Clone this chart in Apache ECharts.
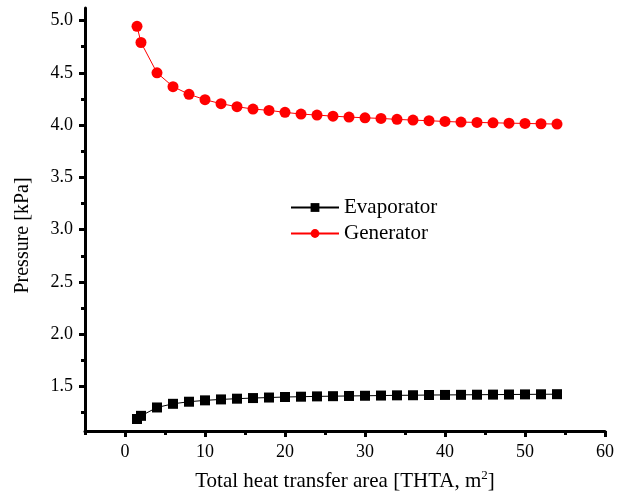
<!DOCTYPE html>
<html>
<head>
<meta charset="utf-8">
<script src="https://cdn.jsdelivr.net/npm/echarts@6/dist/echarts.min.js"></script>
<style>
html,body{margin:0;padding:0;background:#fff;}
#c{width:630px;height:494px;}
</style>
</head>
<body>
<div id="c"></div>
<script>
// Data
var areaValues = [1.5, 2, 4, 6, 8, 10, 12, 14, 16, 18, 20, 22, 24, 26, 28, 30, 32, 34, 36, 38, 40, 42, 44, 46, 48, 50, 52, 54];
var evaporatorValues = [1.19, 1.22, 1.30, 1.335, 1.355, 1.368, 1.377, 1.384, 1.39, 1.395, 1.40, 1.403, 1.406, 1.408, 1.41, 1.412, 1.414, 1.416, 1.417, 1.419, 1.42, 1.421, 1.422, 1.423, 1.424, 1.425, 1.426, 1.427];
var generatorValues = [4.945, 4.79, 4.50, 4.368, 4.295, 4.243, 4.205, 4.176, 4.154, 4.141, 4.122, 4.106, 4.096, 4.086, 4.077, 4.07, 4.064, 4.055, 4.048, 4.042, 4.035, 4.029, 4.026, 4.022, 4.019, 4.016, 4.013, 4.01];
var seriesNames = ['Evaporator', 'Generator'];
var xTickLabels = [0, 10, 20, 30, 40, 50, 60];
var xMinorTicks = [-5, 5, 15, 25, 35, 45, 55];
var yTickLabels = [1.5, 2.0, 2.5, 3.0, 3.5, 4.0, 4.5, 5.0];
var yMinorTicks = [1.25, 1.75, 2.25, 2.75, 3.25, 3.75, 4.25, 4.75];

function pairs(xs, ys) { return xs.map(function (x, i) { return [x, ys[i]]; }); }

var FONT = '"Liberation Serif", "Times New Roman", serif';
var X_MIN = -5, X_MAX = 60, Y_MIN = 1.075, Y_MAX = 5.12;

var chart = echarts.init(document.getElementById('c'), null, {renderer: 'canvas'});
chart.setOption({
  backgroundColor: '#ffffff',
  animation: false,
  grid: {left: 85, right: 25, top: 8, bottom: 63, containLabel: false, outerBoundsMode: 'none'},
  legend: {
    orient: 'vertical',
    left: 285,
    top: 192,
    itemWidth: 48,
    itemHeight: 11,
    itemGap: 5,
    textStyle: {fontFamily: FONT, fontSize: 21, color: '#000'},
    data: seriesNames
  },
  xAxis: [{
    type: 'value', min: X_MIN, max: X_MAX, position: 'bottom',
    name: 'Total heat transfer area [THTA, m{sup|2}]',
    nameLocation: 'middle', nameGap: 38,
    nameTextStyle: {fontFamily: FONT, fontSize: 21, color: '#000',
      rich: {sup: {fontFamily: FONT, fontSize: 13, color: '#000', padding: [0, 0, 12, 0]}}},
    axisLine: {show: true, onZero: false, lineStyle: {color: '#000', width: 3}},
    axisTick: {show: true, inside: false, length: 6, lineStyle: {color: '#000', width: 3}, customValues: xTickLabels},
    axisLabel: {fontFamily: FONT, fontSize: 18, color: '#000', margin: 12, customValues: xTickLabels},
    splitLine: {show: false}
  }, {
    type: 'value', min: X_MIN, max: X_MAX, position: 'bottom',
    axisLine: {show: false, onZero: false},
    axisTick: {show: true, inside: false, length: 4, lineStyle: {color: '#000', width: 3}, customValues: xMinorTicks},
    axisLabel: {show: false},
    splitLine: {show: false}
  }],
  yAxis: [{
    type: 'value', min: Y_MIN, max: Y_MAX, position: 'left',
    name: 'Pressure [kPa]',
    nameLocation: 'middle', nameGap: 52, nameRotate: 90,
    nameTextStyle: {fontFamily: FONT, fontSize: 20, color: '#000', padding: [0, 32, 0, 0]},
    axisLine: {show: true, onZero: false, lineStyle: {color: '#000', width: 3}},
    axisTick: {show: true, inside: false, length: 6, lineStyle: {color: '#000', width: 3}, customValues: yTickLabels},
    axisLabel: {fontFamily: FONT, fontSize: 18, color: '#000', margin: 12, customValues: yTickLabels,
      formatter: function (v) { return Number(v).toFixed(1); }},
    splitLine: {show: false}
  }, {
    type: 'value', min: Y_MIN, max: Y_MAX, position: 'left',
    axisLine: {show: false, onZero: false},
    axisTick: {show: true, inside: false, length: 4, lineStyle: {color: '#000', width: 3}, customValues: yMinorTicks},
    axisLabel: {show: false},
    splitLine: {show: false}
  }],
  series: [{
    name: seriesNames[0], type: 'line', xAxisIndex: 0, yAxisIndex: 0,
    data: pairs(areaValues, evaporatorValues),
    symbol: 'rect', symbolSize: 10,
    lineStyle: {color: '#000', width: 1},
    itemStyle: {color: '#000'}
  }, {
    name: seriesNames[1], type: 'line', xAxisIndex: 0, yAxisIndex: 0,
    data: pairs(areaValues, generatorValues),
    symbol: 'circle', symbolSize: 11,
    lineStyle: {color: '#ff0000', width: 1},
    itemStyle: {color: '#ff0000'}
  }]
});
</script>
</body>
</html>
